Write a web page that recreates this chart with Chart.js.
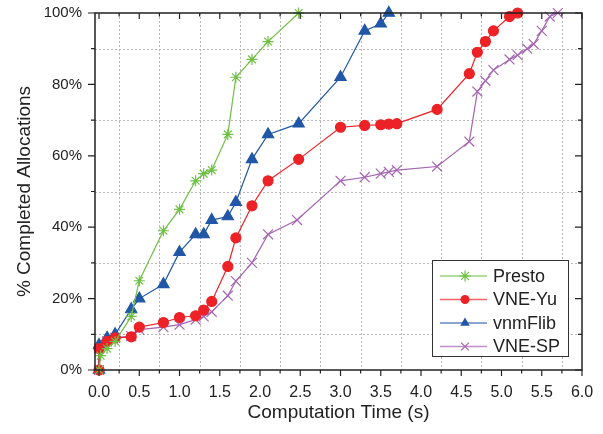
<!DOCTYPE html>
<html>
<head>
<meta charset="utf-8">
<script src="https://cdn.jsdelivr.net/npm/chart.js@4/dist/chart.umd.min.js"></script>
<style>
  html, body { margin: 0; padding: 0; background: #fff; }
  #wrap { width: 603px; height: 434px; }
</style>
</head>
<body>
<div id="wrap"><canvas id="myChart"></canvas></div>
<script>
// values (time in s, % completed)
const prestoTime = [0, 0.02, 0.1, 0.2, 0.4, 0.5, 0.8, 1.0, 1.2, 1.3, 1.4, 1.6, 1.7, 1.9, 2.1, 2.48];
const prestoPct  = [0, 4, 6, 8, 15, 25, 39, 45, 53, 55, 56, 66, 82, 87, 92, 100];

const vneYuTime = [0, 0, 0.1, 0.2, 0.4, 0.5, 0.8, 1.0, 1.2, 1.3, 1.4, 1.6, 1.7, 1.9, 2.1, 2.48, 3.0, 3.3, 3.5, 3.6, 3.7, 4.2, 4.6, 4.7, 4.8, 4.9, 5.1, 5.2];
const vneYuPct  = [0, 6, 8, 9, 9.3, 12, 13.3, 14.7, 15.2, 16.8, 19.2, 29, 37, 46, 53, 59, 68, 68.5, 68.7, 68.9, 69, 73, 83, 89, 92, 95, 99, 100];

const vnmFlibTime = [0, 0, 0.1, 0.2, 0.4, 0.5, 0.8, 1.0, 1.2, 1.3, 1.4, 1.6, 1.7, 1.9, 2.1, 2.48, 3.0, 3.3, 3.5, 3.6];
const vnmFlibPct  = [0, 7, 9, 10, 17, 20, 24, 33, 38, 38, 42, 43, 47, 59, 66, 69, 82, 95, 97, 100];

const vneSpTime = [0, 0, 0.1, 0.2, 0.4, 0.5, 0.8, 1.0, 1.2, 1.3, 1.4, 1.6, 1.7, 1.9, 2.1, 2.46, 3.0, 3.3, 3.5, 3.6, 3.7, 4.2, 4.6, 4.7, 4.8, 4.9, 5.1, 5.2, 5.32, 5.4, 5.5, 5.6, 5.7];
const vneSpPct  = [0, 6, 8, 9, 9.5, 11.3, 12, 12.7, 14.1, 15, 16.3, 20.8, 24.9, 30, 38, 42, 53, 54, 55, 55.5, 56, 57, 64, 78, 81, 84, 87, 88.2, 90, 91.3, 95, 99, 100];

const xTicks = [0, 0.5, 1, 1.5, 2, 2.5, 3, 3.5, 4, 4.5, 5, 5.5, 6];
const yTicks = [0, 20, 40, 60, 80, 100];

const pts = (xs, ys) => xs.map((v, i) => ({x: v, y: ys[i]}));
const mids = arr => arr.slice(1).map((v, i) => (v + arr[i]) / 2);

const series = [
  {label: 'Presto',  color: '#6fbf45', style: 'star',     xs: prestoTime,  ys: prestoPct,  r: 5.5, fill: false},
  {label: 'VNE-Yu',  color: '#ec2227', style: 'circle',   xs: vneYuTime,   ys: vneYuPct,   r: 5,   fill: true},
  {label: 'vnmFlib', color: '#2157a6', style: 'triangle', xs: vnmFlibTime, ys: vnmFlibPct, r: 6.5, fill: true},
  {label: 'VNE-SP',  color: '#a564b2', style: 'crossRot', xs: vneSpTime,   ys: vneSpPct,   r: 7,   fill: false}
];

function marker(ctx, style, cx, cy, r, color) {
  ctx.save();
  ctx.strokeStyle = color; ctx.fillStyle = color; ctx.lineWidth = 1.2;
  ctx.beginPath();
  if (style === 'circle') {
    ctx.arc(cx, cy, r, 0, Math.PI * 2); ctx.fill();
  } else if (style === 'triangle') {
    ctx.moveTo(cx, cy - r); ctx.lineTo(cx + r * 0.87, cy + r * 0.5); ctx.lineTo(cx - r * 0.87, cy + r * 0.5);
    ctx.closePath(); ctx.fill();
  } else {
    const d = r * 0.707;
    ctx.moveTo(cx - d, cy - d); ctx.lineTo(cx + d, cy + d);
    ctx.moveTo(cx + d, cy - d); ctx.lineTo(cx - d, cy + d);
    if (style === 'star') {
      ctx.moveTo(cx - r, cy); ctx.lineTo(cx + r, cy);
      ctx.moveTo(cx, cy - r); ctx.lineTo(cx, cy + r);
    }
    ctx.stroke();
  }
  ctx.restore();
}

const framePlugin = {
  id: 'frame',
  beforeDatasetsDraw(chart) {
    const {ctx, chartArea: a, scales: {x, y}} = chart;
    ctx.save();
    ctx.strokeStyle = '#b8b8b8'; ctx.lineWidth = 1; ctx.setLineDash([2, 2]);
    ctx.beginPath();
    mids(xTicks).forEach(v => {
      const px = Math.round(x.getPixelForValue(v)) + 0.5;
      ctx.moveTo(px, a.top); ctx.lineTo(px, a.bottom);
    });
    mids(yTicks).forEach(v => {
      const py = Math.round(y.getPixelForValue(v)) + 0.5;
      ctx.moveTo(a.left, py); ctx.lineTo(a.right, py);
    });
    ctx.stroke();
    ctx.restore();
  },
  afterDatasetsDraw(chart) {
    const {ctx, chartArea: a, scales: {x, y}} = chart;
    ctx.save();
    ctx.strokeStyle = '#222'; ctx.lineWidth = 1.5;
    ctx.strokeRect(a.left, a.top, a.right - a.left, a.bottom - a.top);
    ctx.lineWidth = 1.2;
    ctx.beginPath();
    const tx = (v, len) => {
      const px = x.getPixelForValue(v);
      ctx.moveTo(px, a.bottom); ctx.lineTo(px, a.bottom + len);
      ctx.moveTo(px, a.top); ctx.lineTo(px, a.top + len);
    };
    const ty = (v, len) => {
      const py = y.getPixelForValue(v);
      ctx.moveTo(a.left, py); ctx.lineTo(a.left - len, py);
      ctx.moveTo(a.right, py); ctx.lineTo(a.right - len, py);
    };
    xTicks.forEach(v => tx(v, 6));
    mids(xTicks).forEach(v => tx(v, 3.5));
    yTicks.forEach(v => ty(v, 7));
    mids(yTicks).forEach(v => ty(v, 4));
    ctx.stroke();

    // axis titles
    ctx.fillStyle = '#222';
    ctx.font = '19px "Liberation Sans", Arial, sans-serif';
    ctx.textAlign = 'center'; ctx.textBaseline = 'middle';
    ctx.fillText('Computation Time (s)', (a.left + a.right) / 2, 413);
    ctx.save();
    ctx.translate(25, (a.top + a.bottom) / 2);
    ctx.rotate(-Math.PI / 2);
    ctx.fillText('% Completed Allocations', 0, 0);
    ctx.restore();

    // legend
    const bx = 432, by = 260, bw = 136, bh = 96;
    ctx.fillStyle = '#fff';
    ctx.fillRect(bx, by, bw, bh);
    ctx.strokeStyle = '#333'; ctx.lineWidth = 1;
    ctx.strokeRect(bx + 0.5, by + 0.5, bw, bh);
    ctx.font = '18px "Liberation Sans", Arial, sans-serif';
    ctx.textAlign = 'left';
    series.forEach((s, i) => {
      const ly = 276 + i * 23.5;
      ctx.save();
      ctx.globalAlpha = 0.7;
      ctx.strokeStyle = s.color; ctx.lineWidth = 1.5;
      ctx.beginPath(); ctx.moveTo(440, ly); ctx.lineTo(487, ly); ctx.stroke();
      ctx.restore();
      marker(ctx, s.style, 465, ly, s.style === 'circle' ? 4.5 : 5.5, s.color);
      ctx.fillStyle = '#222';
      ctx.fillText(s.label, 493, ly + 1);
    });
    ctx.restore();
  }
};

new Chart(document.getElementById('myChart').getContext('2d'), {
  type: 'line',
  data: {
    datasets: series.map(s => ({
      label: s.label,
      data: pts(s.xs, s.ys),
      borderColor: s.color,
      backgroundColor: s.fill ? s.color : 'transparent',
      pointBorderColor: s.color,
      pointBackgroundColor: s.fill ? s.color : 'transparent',
      pointStyle: s.style,
      pointRadius: s.r,
      pointBorderWidth: 1.2,
      borderWidth: 1.2,
      tension: 0,
      clip: false
    }))
  },
  options: {
    responsive: true,
    maintainAspectRatio: false,
    animation: false,
    layout: {padding: {top: 13, right: 21, left: 0, bottom: 0}},
    plugins: {legend: {display: false}, tooltip: {enabled: false}},
    scales: {
      x: {
        type: 'linear', min: -0.05, max: 6,
        grid: {display: false, drawTicks: false},
        border: {display: false},
        afterBuildTicks: sc => { sc.ticks = xTicks.map(v => ({value: v})); },
        afterFit: sc => { sc.height = 64; sc.paddingLeft = 0; sc.paddingRight = 0; },
        ticks: {
          padding: 13, color: '#222', maxRotation: 0, autoSkip: false,
          font: {family: '"Liberation Sans", Arial, sans-serif', size: 16},
          callback: v => Number(v).toFixed(1)
        }
      },
      y: {
        type: 'linear', min: 0, max: 100,
        grid: {display: false, drawTicks: false},
        border: {display: false},
        afterBuildTicks: sc => { sc.ticks = yTicks.map(v => ({value: v})); },
        afterFit: sc => { sc.width = 95; sc.paddingTop = 0; sc.paddingBottom = 0; },
        ticks: {
          padding: 13, color: '#222', autoSkip: false,
          font: {family: '"Liberation Sans", Arial, sans-serif', size: 15},
          callback: v => v + '%'
        }
      }
    }
  },
  plugins: [framePlugin]
});
</script>
</body>
</html>
